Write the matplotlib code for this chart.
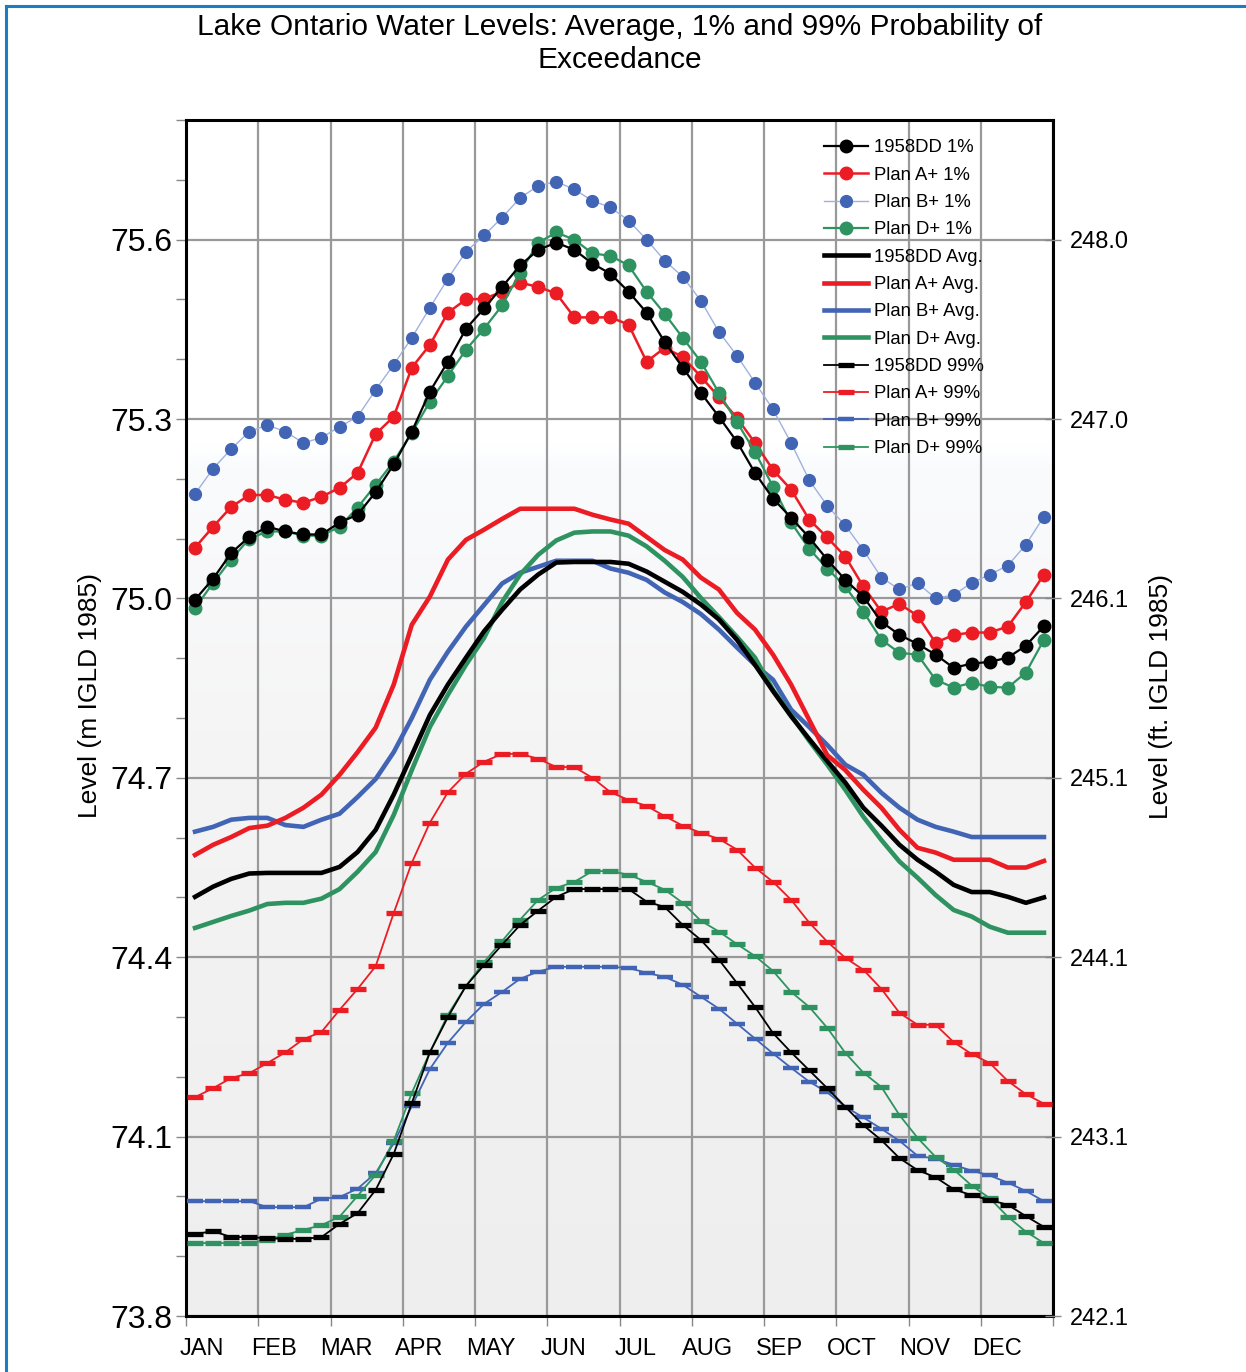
import numpy as np
import matplotlib
matplotlib.use("Agg")
import matplotlib.pyplot as plt
from matplotlib.colors import LinearSegmentedColormap
from matplotlib.lines import Line2D

plt.rcParams['font.family'] = ['Liberation Sans', 'DejaVu Sans']

# quarter-monthly water levels (m IGLD 1985), 48 values each
months = ["JAN", "FEB", "MAR", "APR", "MAY", "JUN", "JUL", "AUG", "SEP", "OCT", "NOV", "DEC"]

dd_1 = [74.998, 75.033, 75.076, 75.103, 75.120, 75.112, 75.107, 75.107, 75.127, 75.140, 75.178, 75.224,
        75.279, 75.346, 75.396, 75.451, 75.485, 75.521, 75.557, 75.583, 75.595, 75.583, 75.560, 75.543,
        75.513, 75.478, 75.429, 75.386, 75.344, 75.304, 75.262, 75.210, 75.167, 75.135, 75.102, 75.065,
        75.031, 75.003, 74.961, 74.939, 74.924, 74.906, 74.884, 74.891, 74.894, 74.901, 74.921, 74.954]
a_1 = [75.085, 75.120, 75.153, 75.173, 75.173, 75.165, 75.160, 75.170, 75.185, 75.210, 75.275, 75.304,
       75.386, 75.424, 75.478, 75.500, 75.501, 75.513, 75.528, 75.521, 75.510, 75.470, 75.470, 75.470,
       75.458, 75.396, 75.419, 75.404, 75.371, 75.337, 75.302, 75.260, 75.215, 75.182, 75.132, 75.102,
       75.070, 75.020, 74.978, 74.991, 74.971, 74.926, 74.939, 74.943, 74.943, 74.953, 74.994, 75.040]
b_1 = [75.175, 75.217, 75.250, 75.279, 75.290, 75.279, 75.260, 75.269, 75.287, 75.304, 75.349, 75.391,
       75.436, 75.486, 75.535, 75.580, 75.607, 75.637, 75.670, 75.690, 75.697, 75.684, 75.665, 75.654,
       75.632, 75.600, 75.565, 75.538, 75.498, 75.446, 75.406, 75.361, 75.316, 75.260, 75.198, 75.155,
       75.122, 75.081, 75.035, 75.015, 75.026, 75.000, 75.006, 75.026, 75.040, 75.055, 75.090, 75.137]
d_1 = [74.984, 75.026, 75.065, 75.100, 75.112, 75.112, 75.105, 75.105, 75.120, 75.152, 75.190, 75.229,
       75.277, 75.329, 75.372, 75.416, 75.451, 75.490, 75.545, 75.595, 75.612, 75.600, 75.577, 75.573,
       75.557, 75.513, 75.476, 75.436, 75.396, 75.344, 75.295, 75.245, 75.187, 75.127, 75.083, 75.050,
       75.020, 74.978, 74.931, 74.909, 74.906, 74.864, 74.851, 74.859, 74.852, 74.851, 74.876, 74.931]

dd_avg = [74.501, 74.518, 74.531, 74.540, 74.541, 74.541, 74.541, 74.541, 74.551, 74.576, 74.613, 74.672,
          74.738, 74.805, 74.856, 74.901, 74.945, 74.981, 75.015, 75.040, 75.060, 75.061, 75.061, 75.061,
          75.058, 75.045, 75.028, 75.011, 74.990, 74.965, 74.931, 74.889, 74.845, 74.803, 74.765, 74.728,
          74.692, 74.650, 74.620, 74.588, 74.563, 74.543, 74.521, 74.509, 74.509, 74.501, 74.491, 74.500]
a_avg = [74.571, 74.588, 74.601, 74.616, 74.620, 74.633, 74.650, 74.672, 74.705, 74.743, 74.784, 74.856,
         74.956, 75.003, 75.065, 75.098, 75.115, 75.133, 75.150, 75.150, 75.150, 75.150, 75.140, 75.132,
         75.125, 75.103, 75.081, 75.065, 75.035, 75.015, 74.976, 74.948, 74.906, 74.856, 74.797, 74.738,
         74.713, 74.680, 74.650, 74.613, 74.583, 74.575, 74.563, 74.563, 74.563, 74.550, 74.550, 74.561]
b_avg = [74.610, 74.618, 74.630, 74.633, 74.633, 74.621, 74.618, 74.630, 74.640, 74.668, 74.698, 74.743,
         74.800, 74.864, 74.911, 74.953, 74.989, 75.025, 75.043, 75.053, 75.063, 75.063, 75.063, 75.050,
         75.043, 75.031, 75.010, 74.994, 74.974, 74.948, 74.918, 74.889, 74.864, 74.814, 74.785, 74.755,
         74.722, 74.705, 74.675, 74.650, 74.630, 74.618, 74.610, 74.601, 74.601, 74.601, 74.601, 74.601]
d_avg = [74.449, 74.459, 74.469, 74.478, 74.489, 74.491, 74.491, 74.498, 74.514, 74.543, 74.576, 74.638,
         74.713, 74.785, 74.839, 74.889, 74.934, 74.994, 75.040, 75.073, 75.097, 75.110, 75.112, 75.112,
         75.105, 75.087, 75.063, 75.036, 75.001, 74.969, 74.936, 74.901, 74.847, 74.805, 74.762, 74.722,
         74.680, 74.635, 74.596, 74.560, 74.533, 74.504, 74.479, 74.468, 74.451, 74.441, 74.441, 74.441]

dd_99 = [73.937, 73.942, 73.932, 73.932, 73.930, 73.929, 73.929, 73.932, 73.954, 73.972, 74.011, 74.071,
         74.156, 74.241, 74.300, 74.352, 74.387, 74.421, 74.454, 74.478, 74.501, 74.514, 74.514, 74.514,
         74.514, 74.493, 74.484, 74.454, 74.429, 74.396, 74.357, 74.317, 74.273, 74.241, 74.211, 74.181,
         74.150, 74.119, 74.094, 74.064, 74.044, 74.032, 74.012, 74.002, 73.994, 73.986, 73.967, 73.949]
a_99 = [74.166, 74.181, 74.198, 74.206, 74.223, 74.241, 74.263, 74.275, 74.312, 74.347, 74.385, 74.474,
        74.558, 74.625, 74.676, 74.707, 74.727, 74.740, 74.740, 74.732, 74.718, 74.718, 74.700, 74.676,
        74.663, 74.653, 74.636, 74.620, 74.608, 74.598, 74.580, 74.550, 74.526, 74.496, 74.458, 74.426,
        74.399, 74.379, 74.347, 74.307, 74.287, 74.287, 74.258, 74.238, 74.223, 74.193, 74.171, 74.155]
b_99 = [73.992, 73.992, 73.992, 73.992, 73.982, 73.982, 73.982, 73.996, 73.999, 74.013, 74.039, 74.089,
        74.151, 74.213, 74.257, 74.292, 74.322, 74.342, 74.364, 74.376, 74.384, 74.384, 74.384, 74.384,
        74.382, 74.374, 74.367, 74.354, 74.334, 74.314, 74.289, 74.264, 74.239, 74.215, 74.192, 74.174,
        74.150, 74.132, 74.113, 74.093, 74.068, 74.063, 74.053, 74.043, 74.035, 74.023, 74.009, 73.992]
d_99 = [73.922, 73.922, 73.922, 73.922, 73.927, 73.936, 73.944, 73.952, 73.966, 74.001, 74.036, 74.093,
        74.173, 74.241, 74.304, 74.352, 74.392, 74.427, 74.463, 74.496, 74.516, 74.526, 74.544, 74.544,
        74.538, 74.526, 74.513, 74.491, 74.461, 74.443, 74.422, 74.402, 74.377, 74.342, 74.317, 74.282,
        74.240, 74.207, 74.183, 74.136, 74.098, 74.066, 74.045, 74.018, 73.997, 73.966, 73.941, 73.922]

x = (np.arange(48) + 0.5) / 4.0  # months

BLACK = "#000000"
RED = "#ec1c24"
BLUE = "#4264b4"
LBLUE = "#9fb2de"
GREEN = "#2e9360"

fig = plt.figure(figsize=(12.46, 13.72), dpi=100)
ax = fig.add_axes([0.1493, 0.0408, 0.6958, 0.8717])

# background gradient
cmap = LinearSegmentedColormap.from_list(
    "bg", [(0, "#ffffff"), (0.27, "#ffffff"), (0.29, "#fafbfd"), (0.55, "#f4f4f4"), (1, "#eeeeee")])
grad = np.linspace(0, 1, 256).reshape(-1, 1)
ax.imshow(grad, extent=[0, 12, 73.8, 75.8], aspect="auto", cmap=cmap, zorder=0, origin="upper")

# 1% series
ax.plot(x, dd_1, color=BLACK, lw=1.6, marker="o", ms=9, label="1958DD 1%", zorder=5)
ax.plot(x, a_1, color=RED, lw=1.8, marker="o", ms=9, label="Plan A+ 1%", zorder=4)
ax.plot(x, b_1, color=LBLUE, lw=1.0, marker="o", ms=8.5, mfc=BLUE, mec=BLUE, label="Plan B+ 1%", zorder=3)
ax.plot(x, d_1, color=GREEN, lw=1.6, marker="o", ms=9, label="Plan D+ 1%", zorder=4.5)

# averages
ax.plot(x, dd_avg, color=BLACK, lw=3.3, label="1958DD Avg.", zorder=4)
ax.plot(x, a_avg, color=RED, lw=3.3, label="Plan A+ Avg.", zorder=4)
ax.plot(x, b_avg, color=BLUE, lw=3.3, label="Plan B+ Avg.", zorder=3.5)
ax.plot(x, d_avg, color=GREEN, lw=3.3, label="Plan D+ Avg.", zorder=3.8)

# 99% series
ax.plot(x, dd_99, color=BLACK, lw=1.3, marker="_", ms=12, mew=3.8, label="1958DD 99%", zorder=4)
ax.plot(x, a_99, color=RED, lw=1.3, marker="_", ms=12, mew=3.8, label="Plan A+ 99%", zorder=4)
ax.plot(x, b_99, color=BLUE, lw=1.3, marker="_", ms=12, mew=3.2, label="Plan B+ 99%", zorder=3.5)
ax.plot(x, d_99, color=GREEN, lw=1.3, marker="_", ms=12, mew=3.8, label="Plan D+ 99%", zorder=3.8)

ax.set_xlim(0, 12)
ax.set_ylim(73.8, 75.8)

# grid / ticks
ax.set_xticks(np.arange(0, 13))
ax.set_xticklabels([])
ax.set_xticks(np.arange(12) + 0.22, minor=True)
ax.set_xticklabels(months, minor=True, fontsize=17)
ax.tick_params(axis="x", which="major", direction="out", length=7, width=1, color="#888888")
ax.tick_params(axis="x", which="minor", length=0, pad=16)

yt = [73.8, 74.1, 74.4, 74.7, 75.0, 75.3, 75.6]
ax.set_yticks(yt)
ax.set_yticklabels([f"{v:.1f}" for v in yt], fontsize=23)
ax.set_yticks(np.arange(73.8, 75.81, 0.1), minor=True)
ax.tick_params(axis="y", which="both", direction="out", length=7, width=1, color="#888888", pad=3)
ax.grid(True, which="major", color="#999999", lw=1.6)
ax.set_axisbelow(True)
for s in ax.spines.values():
    s.set_linewidth(2.2)
    s.set_color("black")

ax.set_ylabel("Level (m IGLD 1985)", fontsize=19)
ax.yaxis.set_label_coords(-0.097, 0.519)

ax2 = ax.twinx()
ax2.set_ylim(73.8, 75.8)
ax2.set_yticks(yt)
ax2.set_yticklabels([f"{v * 3.28084:.1f}" for v in yt], fontsize=17)
ax2.tick_params(axis="y", direction="inout", length=12, width=1, color="#888888", pad=6)
ax2.set_ylabel("Level (ft. IGLD 1985)", fontsize=19)
ax2.yaxis.set_label_coords(1.111, 0.518)
for s in ax2.spines.values():
    s.set_visible(False)

leg = ax.legend(loc="upper left", bbox_to_anchor=(0.727, 0.990), frameon=False, fontsize=13.3,
                handlelength=2.4, handletextpad=0.3, labelspacing=0.56, borderaxespad=0)
leg.set_zorder(10)

fig.text(0.4976, 1 - 27 / 1372, "Lake Ontario Water Levels: Average, 1% and 99% Probability of",
         ha="center", va="center", fontsize=21.5)
fig.text(0.4976, 1 - 60 / 1372, "Exceedance", ha="center", va="center", fontsize=21.5)

# blue page frame
fig.add_artist(Line2D([0.005, 0.005], [0, 0.9956], transform=fig.transFigure, color="#1b7ec2", lw=2.2))
fig.add_artist(Line2D([0.005, 1.0], [0.9956, 0.9956], transform=fig.transFigure, color="#1b7ec2", lw=2.2))

fig.savefig("out.png", dpi=100)
